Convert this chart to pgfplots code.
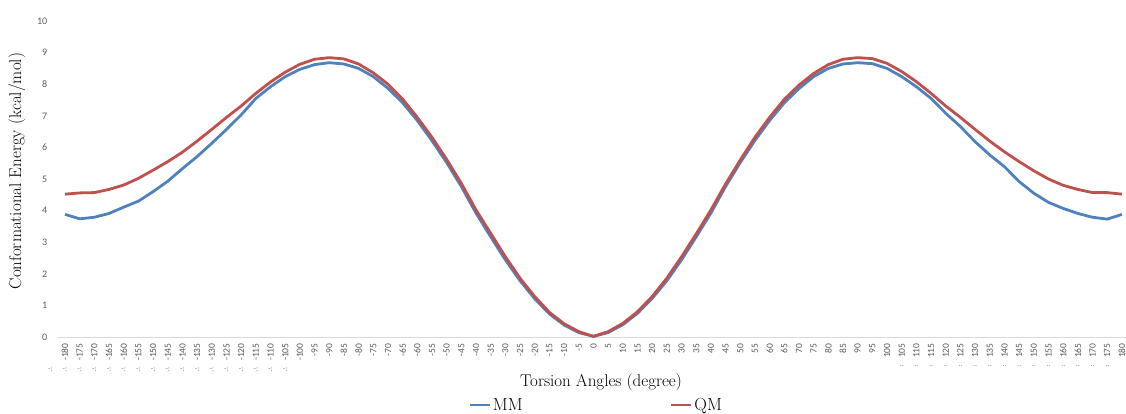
\documentclass[border=0pt]{standalone}
\usepackage{fontspec}
\usepackage{pgfplots}
\pgfplotsset{compat=1.18}
\newfontfamily\carlito{Carlito}
\definecolor{mmblue}{HTML}{4F81BD}
\definecolor{qmred}{HTML}{C0504D}
\definecolor{tickgray}{HTML}{595959}
\pgfplotstableread{
ang qm mm
-180 4.52 3.88
-175 4.56 3.74
-170 4.57 3.79
-165 4.67 3.91
-160 4.81 4.11
-155 5.02 4.30
-150 5.28 4.60
-145 5.55 4.93
-140 5.85 5.33
-135 6.20 5.71
-130 6.57 6.13
-125 6.95 6.57
-120 7.31 7.03
-115 7.71 7.55
-110 8.07 7.92
-105 8.38 8.24
-100 8.63 8.47
-95 8.79 8.62
-90 8.84 8.68
-85 8.80 8.64
-80 8.64 8.50
-75 8.36 8.24
-70 8.00 7.87
-65 7.53 7.41
-60 6.95 6.85
-55 6.32 6.21
-50 5.62 5.52
-45 4.86 4.76
-40 4.02 3.92
-35 3.28 3.17
-30 2.54 2.44
-25 1.86 1.78
-20 1.28 1.21
-15 0.78 0.73
-10 0.42 0.38
-5 0.17 0.14
0 0.02 0.02
5 0.17 0.14
10 0.43 0.39
15 0.80 0.75
20 1.28 1.22
25 1.86 1.78
30 2.54 2.44
35 3.26 3.17
40 4.02 3.92
45 4.84 4.76
50 5.60 5.52
55 6.32 6.22
60 6.95 6.85
65 7.52 7.41
70 7.97 7.86
75 8.34 8.24
80 8.62 8.50
85 8.79 8.64
90 8.84 8.68
95 8.81 8.65
100 8.66 8.50
105 8.40 8.24
110 8.08 7.92
115 7.71 7.55
120 7.31 7.08
125 6.95 6.66
130 6.57 6.18
135 6.20 5.76
140 5.86 5.39
145 5.55 4.92
150 5.26 4.55
155 5.00 4.26
160 4.80 4.07
165 4.67 3.91
170 4.57 3.79
175 4.57 3.73
180 4.52 3.88
}\datatable
\begin{document}
\begin{tikzpicture}
\begin{axis}[
  at={(0pt,0pt)}, anchor=south west,
  scale only axis, width=1068.3pt, height=316pt,
  xmin=-182.5, xmax=181.4, ymin=0, ymax=10,
  axis x line*=bottom, axis y line*=left,
  x axis line style={-, draw=gray!30, line width=0.8pt},
  y axis line style={draw=none},
  major tick length=0pt,
  tick style={draw=none},
  ytick={0,1,...,10},
  /pgf/number format/assume math mode=true,
  yticklabel style={font=\carlito\fontsize{10}{12}\selectfont, text=tickgray, xshift=-7pt},
  xtick={-180,-175,...,180},
  xticklabels={-180,-175,-170,-165,-160,-155,-150,-145,-140,-135,-130,-125,-120,-115,-110,-105,-100,-95,-90,-85,-80,-75,-70,-65,-60,-55,-50,-45,-40,-35,-30,-25,-20,-15,-10,-5,0,5,10,15,20,25,30,35,40,45,50,55,60,65,70,75,80,85,90,95,100,105,110,115,120,125,130,135,140,145,150,155,160,165,170,175,180},
  xticklabel shift=3pt,
  xticklabel style={rotate=90, anchor=east, font=\carlito\fontsize{9.5}{10}\selectfont, text=tickgray},
  every axis x label/.style={at={(axis description cs:0.5086,-0.142)}, anchor=center},
  every axis y label/.style={at={(axis description cs:-0.0381,0.525)}, rotate=90, anchor=center},
  xlabel={Torsion Angles (degree)},
  ylabel={Conformational Energy (kcal/mol)},
  label style={font=\fontsize{17}{20}\selectfont},
  legend style={at={(axis description cs:0.384,-0.215)}, anchor=west, draw=none, fill=none,
    legend columns=2, font=\fontsize{17.5}{20}\selectfont, inner sep=0pt,
    /tikz/every even column/.append style={column sep=0pt}},
  legend image code/.code={\draw[#1] (0pt,0pt) -- (20pt,0pt);},
  every axis plot/.append style={line width=2.8pt, line join=round},
]
\addplot[mmblue, mark=none] table[x=ang, y=mm] {\datatable};
\addplot[qmred, mark=none] table[x=ang, y=qm] {\datatable};
\legend{MM\hspace*{145pt}, QM}
\end{axis}
\foreach \a in {-185,-180,...,-105}
  \node[font=\carlito\fontsize{8}{9}\selectfont, text=gray, inner sep=0pt] at ({(\a+182.5)*2.936pt},-33pt) {-:};
\foreach \a in {105,110,...,175}
  \node[font=\carlito\fontsize{8}{9}\selectfont, text=gray, inner sep=0pt] at ({(\a+182.5)*2.936pt},-29pt) {..};
\pgfresetboundingbox
\path[use as bounding box] (-57.7pt,-76pt) rectangle (1068.3pt,337pt);
\end{tikzpicture}
\end{document}
